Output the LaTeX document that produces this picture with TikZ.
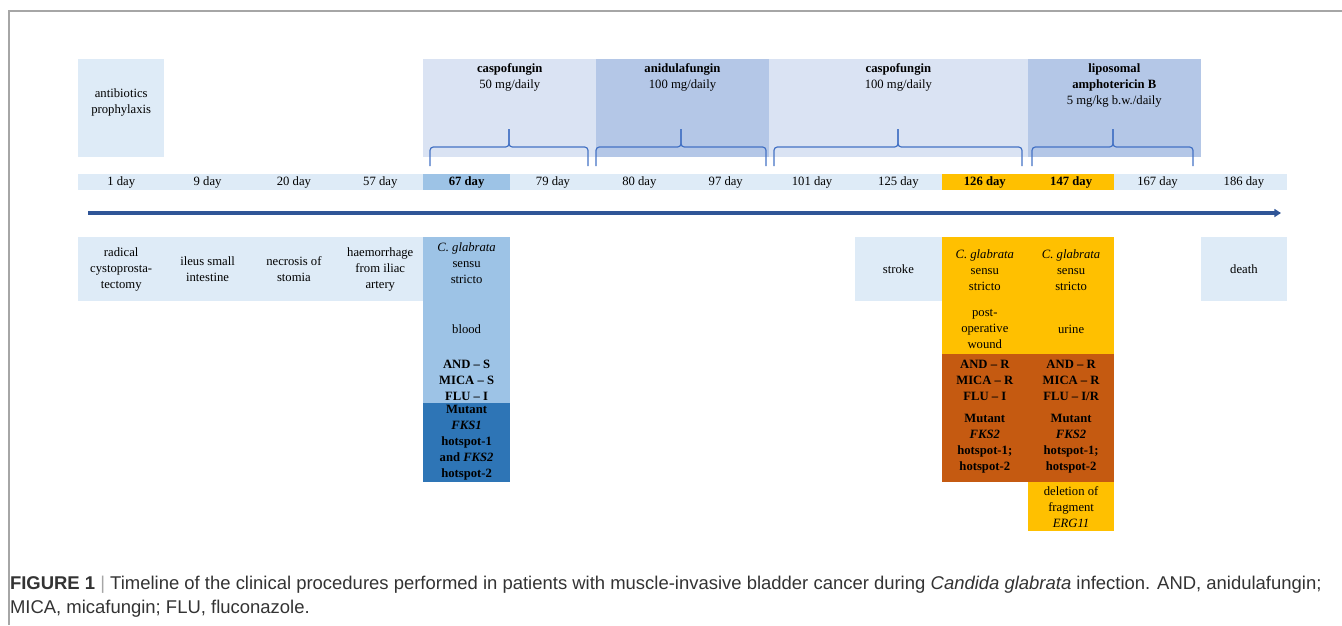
\documentclass[tikz,border=0pt]{standalone}
\usepackage{fontspec}
\setmainfont{Liberation Serif}
\newfontfamily\capfont{Liberation Sans}
\usetikzlibrary{positioning,arrows.meta}

\definecolor{cellbg}{HTML}{DEEBF7}
\definecolor{drugbg}{HTML}{DAE3F3}
\definecolor{drugdk}{HTML}{B4C7E7}
\definecolor{bluemid}{HTML}{9DC3E6}
\definecolor{bluedk}{HTML}{2E75B6}
\definecolor{gold}{HTML}{FFC000}
\definecolor{rust}{HTML}{C55A11}
\definecolor{bracecol}{HTML}{4472C4}
\definecolor{arrowcol}{HTML}{2F5597}
\definecolor{framecol}{HTML}{A6A6A6}
\definecolor{captxt}{HTML}{333333}

\newcommand{\lbl}{\fontsize{9.5}{12}\selectfont}

\begin{document}
\begin{tikzpicture}[x=0.75pt, y=-0.75pt,
                    every node/.style={inner sep=0pt, outer sep=0pt},
                    ]
    \tikzstyle{day}=[fill=cellbg, minimum width=64.8pt, minimum height=12pt, anchor=north west, font=\lbl]
    \tikzstyle{dayblue}=[day, fill=bluemid, font=\lbl\bfseries]
    \tikzstyle{daygold}=[day, fill=gold, font=\lbl\bfseries]
    \tikzstyle{event}=[day, minimum height=48pt, align=center]
    \tikzstyle{drug}=[fill=drugbg, minimum height=73.5pt, anchor=north west]
    \tikzstyle{drugdark}=[drug, fill=drugdk]
    \tikzstyle{panel}=[anchor=north west, minimum width=64.8pt]
    \tikzstyle{txt}=[align=center, font=\lbl]
    \tikzstyle{txtb}=[txt, font=\lbl\bfseries]
    \tikzstyle{curly}=[draw=bracecol, line width=0.9pt, rounded corners=2.5pt]

    \useasboundingbox (0,0) rectangle (1342,625);
    \draw[framecol, line width=1.3pt] (9,625) -- (9,11) -- (1342,11);

    % treatment
    \node[drug, fill=cellbg, minimum width=64.8pt] (ab) at (78,59) {};
    \node[drug, minimum width=129.5pt] (cas1) at (423.44,59) {};
    \node[drugdark, minimum width=129.5pt] (ani) at (596.16,59) {};
    \node[drug, minimum width=194.3pt] (cas2) at (768.88,59) {};
    \node[drugdark, minimum width=129.5pt] (lipo) at (1027.96,59) {};

    \node[txt] (abt) at ([yshift=4.5pt]ab.center) {antibiotics\\prophylaxis};
    \node[txt, below=3.5pt of cas1.north] (cas1t) {\textbf{caspofungin}\\50 mg/daily};
    \node[txt, below=3.5pt of ani.north] (anit) {\textbf{anidulafungin}\\100 mg/daily};
    \node[txt, below=3.5pt of cas2.north] (cas2t) {\textbf{caspofungin}\\100 mg/daily};
    \node[txt, below=3.5pt of lipo.north] (lipot) {\textbf{liposomal}\\\textbf{amphotericin B}\\5 mg/kg b.w./daily};

    \draw[curly] (430,166) -- (430,147) -- (509,147) -- (509,129);
    \draw[curly] (588,166) -- (588,147) -- (509,147) -- (509,129);
    \draw[curly] (596,166) -- (596,147) -- (681,147) -- (681,129);
    \draw[curly] (766,166) -- (766,147) -- (681,147) -- (681,129);
    \draw[curly] (774,166) -- (774,147) -- (898,147) -- (898,129);
    \draw[curly] (1022,166) -- (1022,147) -- (898,147) -- (898,129);
    \draw[curly] (1032,166) -- (1032,147) -- (1113,147) -- (1113,129);
    \draw[curly] (1193,166) -- (1193,147) -- (1113,147) -- (1113,129);

    % days
    \node[day] (d1) at (78,174) {1 day};
    \node[day] (d9) at (164.36,174) {9 day};
    \node[day] (d20) at (250.72,174) {20 day};
    \node[day] (d57) at (337.08,174) {57 day};
    \node[dayblue] (d67) at (423.44,174) {67 day};
    \node[day] (d79) at (509.8,174) {79 day};
    \node[day] (d80) at (596.16,174) {80 day};
    \node[day] (d97) at (682.52,174) {97 day};
    \node[day] (d101) at (768.88,174) {101 day};
    \node[day] (d125) at (855.24,174) {125 day};
    \node[daygold] (d126) at (941.6,174) {126 day};
    \node[daygold] (d147) at (1027.96,174) {147 day};
    \node[day] (d167) at (1114.32,174) {167 day};
    \node[day] (d186) at (1200.68,174) {186 day};

    \coordinate (tstart) at (88,213);
    \coordinate (tend) at (1281,213);
    \draw[arrowcol, line width=2.3pt, -{Triangle[length=5pt,width=6pt]}] (tstart) -- (tend);

    % events
    \node[event] (e1) at (78,237) {radical\\cystoprosta-\\tectomy};
    \node[event] (e9) at (164.36,237) {ileus small\\intestine};
    \node[event] (e20) at (250.72,237) {necrosis of\\stomia};
    \node[event] (e57) at (337.08,237) {haemorrhage\\from iliac\\artery};
    \node[event] (e125) at (855.24,237) {stroke};
    \node[event] (e186) at (1200.68,237) {death};

    % isolates
    \node[panel, fill=bluemid, minimum height=124.5pt] (cg67) at (423.44,237) {};
    \node[panel, fill=bluedk, minimum height=59.25pt] (mu67) at (423.44,403) {};
    \node[panel, fill=gold, minimum height=87.75pt] (cg126) at (941.6,237) {};
    \node[panel, fill=rust, minimum height=96pt] (mu126) at (941.6,354) {};
    \node[panel, fill=gold, minimum height=87.75pt] (cg147) at (1027.96,237) {};
    \node[panel, fill=rust, minimum height=96pt] (mu147) at (1027.96,354) {};
    \node[panel, fill=gold, minimum height=36.75pt] (erg147) at (1027.96,482) {};

    \node[txt] (sp67) at (466.6,263) {\textit{C. glabrata}\\sensu\\stricto};
    \node[txt] (src67) at (466.6,329) {blood};
    \node[txtb] (mic67) at (466.6,380) {AND – S\\MICA – S\\FLU – I};
    \node[txtb] (fks67) at (466.6,443) {Mutant\\\textit{FKS1}\\hotspot-1\\and \textit{FKS2}\\hotspot-2};

    \node[txt] (sp126) at (984.8,270) {\textit{C. glabrata}\\sensu\\stricto};
    \node[txt] (src126) at (984.8,329) {post-\\operative\\wound};
    \node[txtb] (mic126) at (984.8,380) {AND – R\\MICA – R\\FLU – I};
    \node[txtb] (fks126) at (984.8,444) {Mutant\\\textit{FKS2}\\hotspot-1;\\hotspot-2};

    \node[txt] (sp147) at (1071.1,270) {\textit{C. glabrata}\\sensu\\stricto};
    \node[txt] (src147) at (1071.1,329) {urine};
    \node[txtb] (mic147) at (1071.1,380) {AND – R\\MICA – R\\FLU – I/R};
    \node[txtb] (fks147) at (1071.1,444) {Mutant\\\textit{FKS2}\\hotspot-1;\\hotspot-2};
    \node[txt] (erg) at (1071.1,507) {deletion of\\fragment\\\textit{ERG11}};

    % caption
    \node[anchor=north west, align=left, text=captxt, font=\capfont\fontsize{13.85}{18}\selectfont] (cap) at (10,576)
        {\textbf{FIGURE 1} {\color{framecol}|} Timeline of the clinical procedures performed in patients with muscle-invasive bladder cancer during \textit{Candida glabrata} infection. AND, anidulafungin;\\
         MICA, micafungin; FLU, fluconazole.};
\end{tikzpicture}
\end{document}
